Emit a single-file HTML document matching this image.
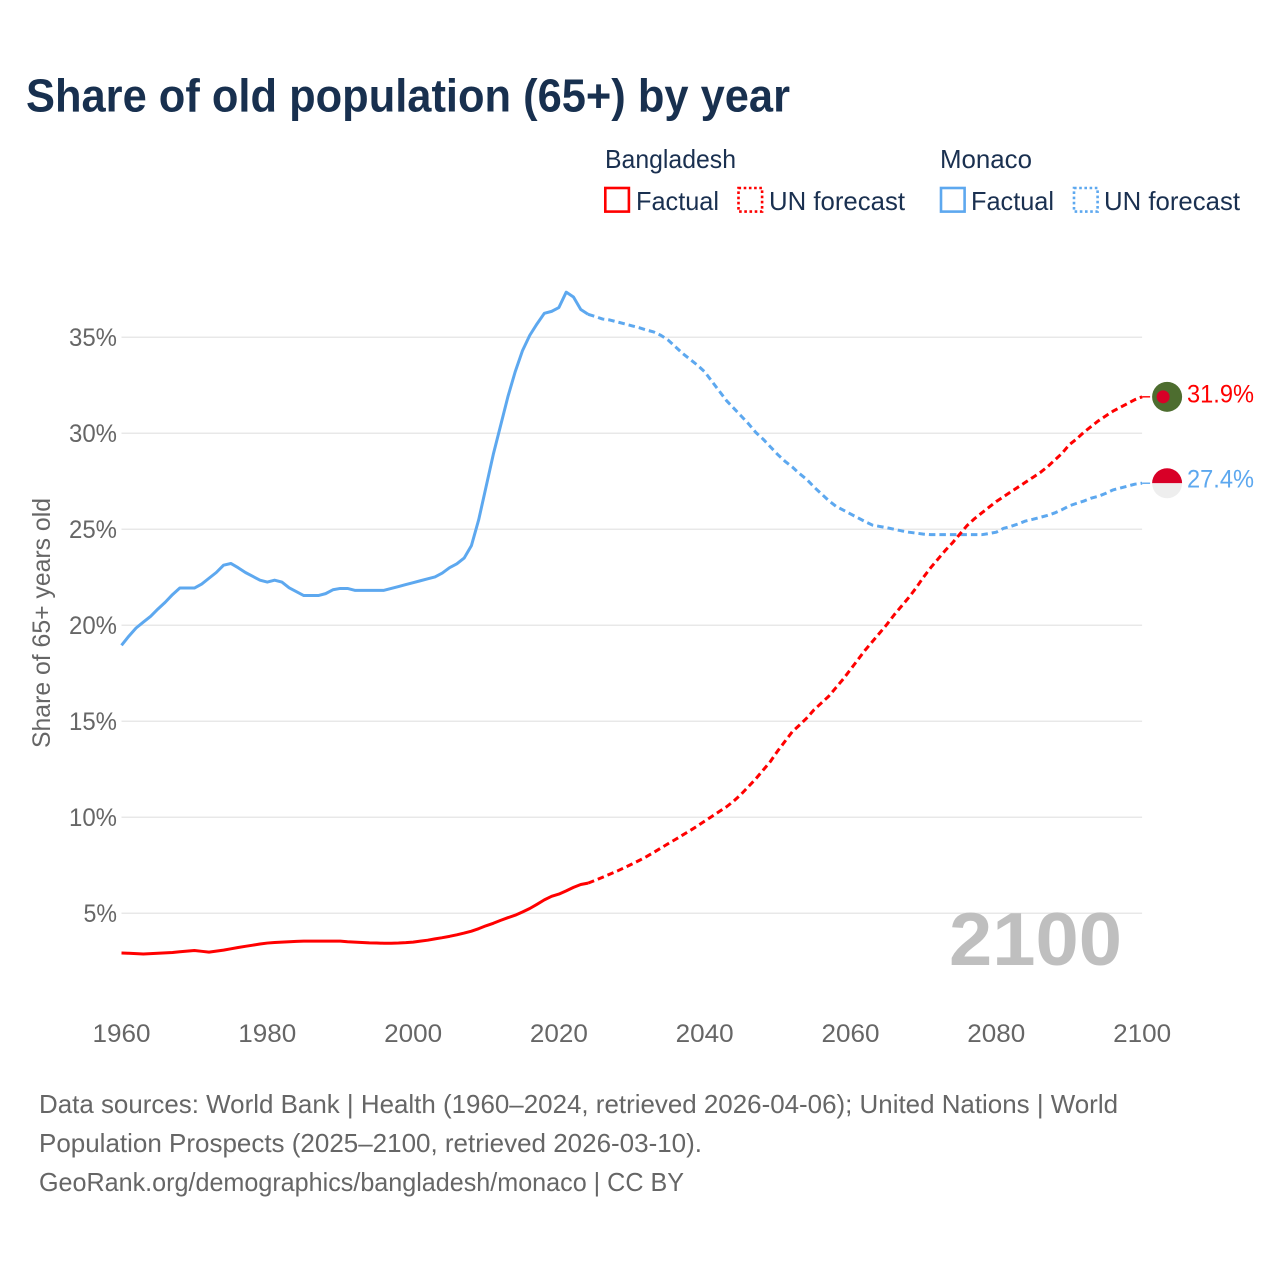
<!DOCTYPE html>
<html lang="en">
<head>
<meta charset="utf-8">
<title>Share of old population (65+) by year</title>
<style>
html,body{margin:0;padding:0;background:#fff;width:1280px;height:1280px;overflow:hidden}
svg{display:block}
text{font-family:"Liberation Sans",sans-serif}
</style>
</head>
<body>
<svg id="chart" xmlns="http://www.w3.org/2000/svg" width="1280" height="1280" viewBox="0 0 1280 1280">
  <rect width="1280" height="1280" fill="#ffffff"/>
  <text x="26" y="111.5" font-size="46" font-weight="700" fill="#18304f" textLength="764" lengthAdjust="spacingAndGlyphs">Share of old population (65+) by year</text>

  <g font-size="26" fill="#1a3050">
    <text x="605" y="168" textLength="131" lengthAdjust="spacingAndGlyphs">Bangladesh</text>
    <rect x="605.3" y="188" width="23.6" height="23.6" fill="none" stroke="#ff0000" stroke-width="2.6"/>
    <text x="636" y="210" textLength="83" lengthAdjust="spacingAndGlyphs">Factual</text>
    <rect x="738.5" y="188" width="23.6" height="23.6" fill="none" stroke="#ff0000" stroke-width="2.6" stroke-dasharray="2.6 2.6"/>
    <text x="769" y="210" textLength="136" lengthAdjust="spacingAndGlyphs">UN forecast</text>
    <text x="940" y="168" textLength="92" lengthAdjust="spacingAndGlyphs">Monaco</text>
    <rect x="941" y="188" width="23.6" height="23.6" fill="none" stroke="#5da8ef" stroke-width="2.6"/>
    <text x="971" y="210" textLength="83" lengthAdjust="spacingAndGlyphs">Factual</text>
    <rect x="1074" y="188" width="23.6" height="23.6" fill="none" stroke="#5da8ef" stroke-width="2.6" stroke-dasharray="2.6 2.6"/>
    <text x="1104" y="210" textLength="136" lengthAdjust="spacingAndGlyphs">UN forecast</text>
  </g>

  <g id="grid"></g>
  <g id="yTicks" font-size="25" fill="#666666" text-anchor="end"></g>
  <g id="xTicks" font-size="25" fill="#666666" text-anchor="middle"></g>
  <text transform="translate(50 623) rotate(-90)" font-size="25" fill="#666666" text-anchor="middle" textLength="250" lengthAdjust="spacingAndGlyphs">Share of 65+ years old</text>

  <text x="949" y="965" font-size="75" font-weight="700" fill="#bfbfbf" textLength="173" lengthAdjust="spacingAndGlyphs">2100</text>

  <g id="series"></g>
  <g id="ends"></g>

  <g font-size="26" fill="#666666">
    <text x="39" y="1113" textLength="1079" lengthAdjust="spacingAndGlyphs">Data sources: World Bank | Health (1960–2024, retrieved 2026-04-06); United Nations | World</text>
    <text x="39" y="1152" textLength="663" lengthAdjust="spacingAndGlyphs">Population Prospects (2025–2100, retrieved 2026-03-10).</text>
    <text x="39" y="1191" textLength="645" lengthAdjust="spacingAndGlyphs">GeoRank.org/demographics/bangladesh/monaco | CC BY</text>
  </g>
</svg>
<script>
const firstYear = 1960;
const forecastFirstYear = 2024;
const yTickValues = [5, 10, 15, 20, 25, 30, 35];
const xTickYears = [1960, 1980, 2000, 2020, 2040, 2060, 2080, 2100];

// Values in percent, one per year from 1960 to 2024
const bangladeshFactual = [
  2.93,2.92,2.9,2.88,2.9,2.92,2.94,2.96,3.0,3.03,
  3.06,3.02,2.98,3.03,3.08,3.15,3.22,3.28,3.34,3.4,
  3.45,3.48,3.5,3.52,3.54,3.55,3.55,3.55,3.55,3.55,
  3.55,3.52,3.5,3.48,3.46,3.45,3.44,3.44,3.45,3.47,
  3.5,3.55,3.6,3.67,3.73,3.8,3.88,3.97,4.07,4.2,
  4.35,4.48,4.63,4.77,4.9,5.07,5.25,5.47,5.7,5.885,
  6.0,6.17,6.35,6.5,6.57
];
// One per year from 2024 to 2100
const bangladeshForecast = [
  6.57,6.72,6.88,7.04,7.2,7.38,
  7.56,7.75,7.95,8.17,8.4,8.63,8.85,9.08,9.31,9.55,
  9.8,10.05,10.3,10.55,10.85,11.2,11.6,12.0,12.45,12.9,
  13.45,13.95,14.45,14.8,15.17,15.6,15.95,16.3,16.75,17.2,
  17.7,18.2,18.7,19.15,19.6,20.05,20.55,21.0,21.45,21.95,
  22.5,23.0,23.45,23.9,24.3,24.75,25.2,25.55,25.85,26.15,
  26.45,26.7,26.95,27.2,27.45,27.7,27.95,28.25,28.6,28.95,
  29.4,29.7,30.05,30.35,30.65,30.9,31.15,31.35,31.55,31.75,
  31.9
];
const monacoFactual = [
  18.96,19.43,19.86,20.17,20.47,20.85,21.2,21.6,21.94,21.94,
  21.94,22.15,22.45,22.75,23.13,23.22,23.0,22.75,22.55,22.35,
  22.25,22.35,22.25,21.95,21.75,21.55,21.55,21.55,21.65,21.85,
  21.92,21.92,21.82,21.82,21.82,21.82,21.82,21.92,22.02,22.12,
  22.22,22.32,22.42,22.52,22.72,23.0,23.2,23.5,24.15,25.5,
  27.2,28.9,30.4,31.9,33.2,34.3,35.1,35.7,36.25,36.35,
  36.55,37.35,37.1,36.45,36.2
];
const monacoForecast = [
  36.2,36.08,35.95,35.9,35.8,35.7,
  35.6,35.5,35.38,35.28,35.1,34.85,34.5,34.15,33.85,33.55,
  33.2,32.7,32.2,31.7,31.3,30.9,30.5,30.05,29.7,29.3,
  28.9,28.55,28.25,27.9,27.6,27.2,26.85,26.5,26.2,26.0,
  25.8,25.6,25.4,25.22,25.15,25.08,25.0,24.92,24.85,24.8,
  24.75,24.72,24.72,24.72,24.72,24.72,24.72,24.72,24.72,24.78,
  24.85,25.05,25.15,25.28,25.43,25.52,25.62,25.72,25.85,26.02,
  26.22,26.35,26.47,26.62,26.72,26.87,27.05,27.15,27.25,27.35,
  27.4
];

const NS = 'http://www.w3.org/2000/svg';
function xScale(year) { return 121.5 + (year - 1960) * 7.29; }
function yScale(value) { return 913.3 - (value - 5) * 19.2; }
function make(tag, attrs, parent) {
  const el = document.createElementNS(NS, tag);
  for (const k in attrs) el.setAttribute(k, attrs[k]);
  parent.appendChild(el);
  return el;
}
function linePath(values, startYear) {
  return values.map(function (v, i) {
    return (i ? 'L' : 'M') + xScale(startYear + i).toFixed(2) + ' ' + yScale(v).toFixed(2);
  }).join(' ');
}

const grid = document.getElementById('grid');
const yTicks = document.getElementById('yTicks');
yTickValues.forEach(function (v) {
  const gl = make('line', {x1: xScale(1960), x2: xScale(2100), y1: yScale(v), y2: yScale(v), stroke: '#e8e8e8', 'stroke-width': 1.5}, grid);
  
  
  const label = v + '%';
  const t = make('text', {x: 117, y: yScale(v) + 8.5, textLength: (label.length - 1) * 14.5 + 19, lengthAdjust: 'spacingAndGlyphs'}, yTicks);
  
  
  t.textContent = label;
});

const xTicks = document.getElementById('xTicks');
xTickYears.forEach(function (yr) {
  const t = make('text', {x: xScale(yr), y: 1042, textLength: 58, lengthAdjust: 'spacingAndGlyphs'}, xTicks);
  
  
  t.textContent = String(yr);
});

const series = document.getElementById('series');
function drawLine(values, startYear, color, dashed, name) {
  const p = make('path', {d: linePath(values, startYear), fill: 'none', stroke: color, 'stroke-width': 3, 'stroke-linejoin': 'round'}, series);
  if (dashed) p.setAttribute('stroke-dasharray', '6.5 4');
  
  
}
drawLine(monacoFactual, firstYear, '#5da8ef', false, 'monaco-factual-line');
drawLine(monacoForecast, forecastFirstYear, '#5da8ef', true, 'monaco-forecast-line');
drawLine(bangladeshFactual, firstYear, '#ff0000', false, 'bangladesh-factual-line');
drawLine(bangladeshForecast, forecastFirstYear, '#ff0000', true, 'bangladesh-forecast-line');

const ends = document.getElementById('ends');
const bdEnd = bangladeshForecast[bangladeshForecast.length - 1];
const mcEnd = monacoForecast[monacoForecast.length - 1];
const flagX = xScale(2100) + 25;

const bdConn = make('line', {x1: xScale(2100), x2: xScale(2100) + 8, y1: yScale(bdEnd), y2: yScale(bdEnd), stroke: '#ff0000', 'stroke-width': 1.4}, ends);


const mcConn = make('line', {x1: xScale(2100), x2: xScale(2100) + 8, y1: yScale(mcEnd), y2: yScale(mcEnd), stroke: '#5da8ef', 'stroke-width': 1.4}, ends);



const bdFlag = make('g', {}, ends);


make('circle', {cx: flagX, cy: yScale(bdEnd), r: 15, fill: '#4d6d2f'}, bdFlag);
make('circle', {cx: flagX - 4, cy: yScale(bdEnd), r: 6.5, fill: '#d80027'}, bdFlag);

const mcFlag = make('g', {}, ends);


const mcY = yScale(mcEnd);
make('path', {d: 'M' + (flagX - 15) + ' ' + mcY + ' A15 15 0 0 1 ' + (flagX + 15) + ' ' + mcY + ' Z', fill: '#d80027'}, mcFlag);
make('path', {d: 'M' + (flagX - 15) + ' ' + mcY + ' A15 15 0 0 0 ' + (flagX + 15) + ' ' + mcY + ' Z', fill: '#eeeeee'}, mcFlag);

const bdLabel = make('text', {x: 1187, y: yScale(bdEnd) + 5.5, 'font-size': 25, fill: '#ff0000', textLength: 67, lengthAdjust: 'spacingAndGlyphs'}, ends);


bdLabel.textContent = bdEnd.toFixed(1) + '%';
const mcLabel = make('text', {x: 1187, y: yScale(mcEnd) + 4.5, 'font-size': 25, fill: '#5da8ef', textLength: 67, lengthAdjust: 'spacingAndGlyphs'}, ends);


mcLabel.textContent = mcEnd.toFixed(1) + '%';
</script>
</body>
</html>
